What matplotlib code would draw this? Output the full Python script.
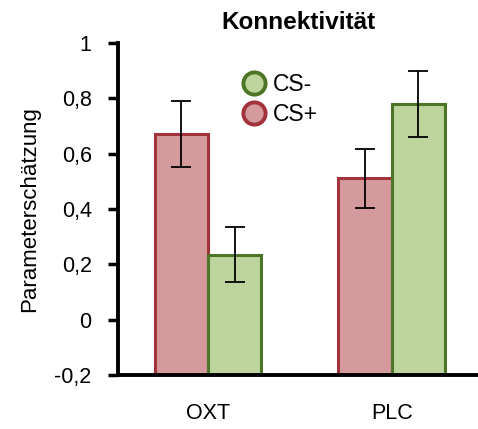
import numpy as np
import matplotlib.pyplot as plt
from matplotlib.lines import Line2D

plt.rcParams['font.family'] = ['Liberation Sans', 'DejaVu Sans']

# Daten
groups = ['OXT', 'PLC']
cs_plus = [0.67, 0.51]
cs_plus_err = [0.12, 0.105]
cs_minus = [0.235, 0.78]
cs_minus_err = [0.10, 0.12]
yticks = [-0.2, 0, 0.2, 0.4, 0.6, 0.8, 1.0]
ymin = -0.2

red_fill, red_edge = '#d49a9c', '#a3323a'
green_fill, green_edge = '#bdd49c', '#4d7526'

fig = plt.figure(figsize=(4.78, 4.29), dpi=100)
ax = fig.add_axes([0.247, 0.126, 0.753, 0.774])

x = np.arange(len(groups))
w = 0.29
# Balken beginnen an der Unterkante (-0,2) wie im Original
ax.bar(x - w / 2, np.array(cs_plus) - ymin, w, bottom=ymin, color=red_fill,
       edgecolor=red_edge, linewidth=2.2, zorder=2)
ax.bar(x + w / 2, np.array(cs_minus) - ymin, w, bottom=ymin, color=green_fill,
       edgecolor=green_edge, linewidth=2.2, zorder=2)
ax.errorbar(x - w / 2, cs_plus, yerr=cs_plus_err, fmt='none', ecolor='black',
            elinewidth=1.3, capsize=7, capthick=1.3, zorder=3)
ax.errorbar(x + w / 2, cs_minus, yerr=cs_minus_err, fmt='none', ecolor='black',
            elinewidth=1.3, capsize=7, capthick=1.3, zorder=3)

ax.set_xlim(-0.49, 1.47)
ax.set_ylim(ymin, 1.0)
ax.set_yticks(yticks)
ax.set_yticklabels([('%g' % t).replace('.', ',') for t in yticks], fontsize=15.5)
ax.set_xticks(x)
ax.set_xticklabels(groups, fontsize=15.5)
ax.tick_params(axis='x', length=0, pad=20)
ax.tick_params(axis='y', length=7, width=2.5, direction='out', pad=12)

for s in ['top', 'right']:
    ax.spines[s].set_visible(False)
for s in ['left', 'bottom']:
    ax.spines[s].set_linewidth(2.8)

ax.set_ylabel('Parameterschätzung', fontsize=16, labelpad=10)
ax.set_title('Konnektivität', fontsize=17.5, fontweight='bold', pad=10)

handles = [
    Line2D([], [], marker='o', linestyle='none', markersize=16,
           markerfacecolor=green_fill, markeredgecolor=green_edge, markeredgewidth=2.8),
    Line2D([], [], marker='o', linestyle='none', markersize=16,
           markerfacecolor=red_fill, markeredgecolor=red_edge, markeredgewidth=2.8),
]
ax.legend(handles, ['CS-', 'CS+'], loc='upper left', bbox_to_anchor=(0.272, 0.97),
          frameon=False, fontsize=16.5, handletextpad=0.1, labelspacing=0.3,
          handlelength=1.5)

fig.savefig('out.png', dpi=100)
